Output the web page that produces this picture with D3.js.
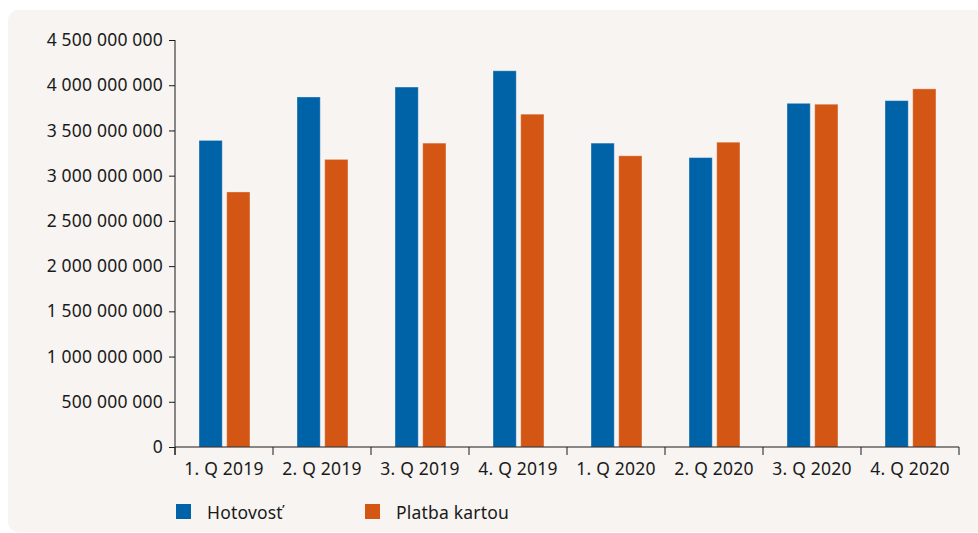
<!DOCTYPE html>
<html>
<head>
<meta charset="utf-8">
<script src="https://cdn.jsdelivr.net/npm/d3@7"></script>
<style>
  html, body { margin: 0; padding: 0; background: #fff; }
  text { font-family: "Noto Sans", sans-serif; fill: #1a1a1a; }
</style>
</head>
<body>
<div id="chart"></div>
<script>
var categories = ["1. Q 2019", "2. Q 2019", "3. Q 2019", "4. Q 2019", "1. Q 2020", "2. Q 2020", "3. Q 2020", "4. Q 2020"];
var seriesNames = ["Hotovosť", "Platba kartou"];
var hotovost = [3390000000, 3870000000, 3980000000, 4160000000, 3360000000, 3200000000, 3800000000, 3830000000];
var platbaKartou = [2820000000, 3180000000, 3360000000, 3680000000, 3220000000, 3370000000, 3790000000, 3960000000];
var yTicks = [0, 500000000, 1000000000, 1500000000, 2000000000, 2500000000, 3000000000, 3500000000, 4000000000, 4500000000];
var colors = ["#0062a7", "#d45614"];

var svg = d3.select("#chart").append("svg").attr("width", 978).attr("height", 533),
    margin = {top: 40, right: 19, bottom: 86, left: 175},
    width = +svg.attr("width") - margin.left - margin.right,
    height = +svg.attr("height") - margin.top - margin.bottom;

// panel background
svg.append("rect")
    .attr("x", 8).attr("y", 10)
    .attr("width", 1000).attr("height", 522)
    .attr("rx", 10).attr("ry", 10)
    .attr("fill", "#f7f4f1");

var g = svg.append("g").attr("transform", "translate(" + margin.left + "," + margin.top + ")");

var data = categories.map(function(c, i) {
  return {cat: c, values: [hotovost[i], platbaKartou[i]]};
});

var x0 = d3.scaleBand().domain(categories).range([0, width]).padding(0);
var bw = x0.bandwidth();
var x1 = d3.scaleBand().domain([0, 1]).range([bw * 0.245, bw * 0.765]).paddingInner(0.16);
var y = d3.scaleLinear().domain([0, 4500000000]).range([height, 0]);

var fmt = function(d) { return d3.format(",")(d).replace(/,/g, " "); };

g.append("g")
  .selectAll("g")
  .data(data)
  .enter().append("g")
    .attr("transform", function(d) { return "translate(" + x0(d.cat) + ",0)"; })
  .selectAll("rect")
  .data(function(d) { return d.values.map(function(v, k) { return {k: k, value: v}; }); })
  .enter().append("rect")
    .attr("x", function(d) { return x1(d.k); })
    .attr("y", function(d) { return y(d.value); })
    .attr("width", x1.bandwidth())
    .attr("height", function(d) { return height - y(d.value); })
    .attr("fill", function(d) { return colors[d.k]; })
    .attr("stroke", "#ffffff")
    .attr("stroke-opacity", 0.35)
    .attr("stroke-width", 1);

// y axis
var yAxis = g.append("g")
    .call(d3.axisLeft(y).tickValues(yTicks).tickFormat(fmt).tickSize(6).tickPadding(6));
yAxis.select(".domain").attr("d", "M0,0V" + (height + 8));

// x axis
var xAxis = g.append("g")
    .attr("transform", "translate(0," + height + ")")
    .call(d3.axisBottom(x0).tickSize(0).tickPadding(16));
xAxis.select(".domain").attr("d", "M0,0H" + width);
xAxis.selectAll(".tickmark")
  .data(d3.range(categories.length + 1))
  .enter().append("line")
    .attr("class", "tickmark")
    .attr("x1", function(i) { return i * bw; })
    .attr("x2", function(i) { return i * bw; })
    .attr("y1", 0).attr("y2", 8)
    .attr("stroke", "#1a1a1a");

svg.selectAll(".domain, .tick line").attr("stroke", "#1a1a1a");
svg.selectAll(".tick text").attr("font-size", 17.5).attr("fill", "#1a1a1a")
    .attr("letter-spacing", 0.2)
    .style("font-family", "'Noto Sans', sans-serif");

// legend
var legend = svg.append("g").attr("transform", "translate(176,504)");
var items = legend.selectAll("g").data(seriesNames).enter().append("g")
    .attr("transform", function(d, i) { return "translate(" + (i * 189) + ",0)"; });
items.append("rect").attr("width", 15).attr("height", 15)
    .attr("fill", function(d, i) { return colors[i]; });
items.append("text").attr("x", 31).attr("y", 15).attr("font-size", 17.5)
    .attr("letter-spacing", 0.2).text(function(d) { return d; });
</script>
</body>
</html>
